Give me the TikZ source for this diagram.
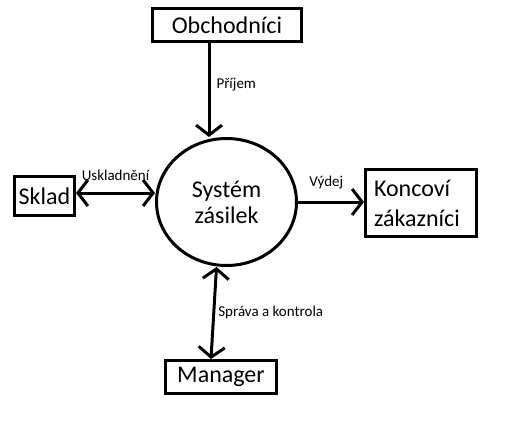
\documentclass[tikz,border=0pt]{standalone}
\usepackage{fontspec}
\setmainfont{Carlito}
\usetikzlibrary{arrows.meta,shapes.geometric}

\begin{document}
\begin{tikzpicture}[
  x=1pt, y=-1pt,
  box/.style={rectangle, draw, line width=3pt, inner sep=0pt, font=\fontsize{24}{30}\selectfont},
  proc/.style={ellipse, draw, line width=3pt, inner sep=0pt, minimum width=140pt, minimum height=127pt, align=center, font=\fontsize{24}{26}\selectfont},
  flow/.style={line width=3pt, -{Straight Barb[length=10pt,width=26pt]}},
  both/.style={line width=3pt, {Straight Barb[length=10pt,width=26pt]}-{Straight Barb[length=10pt,width=26pt]}},
  lbl/.style={font=\fontsize{15}{18}\selectfont, inner sep=0pt}
]
  \useasboundingbox (0,0) rectangle (510,422);

  \node[box, minimum width=149pt, minimum height=33pt] (obchodnici) at (227,25) {Obchodníci};
  \node[box, minimum width=60pt, minimum height=39pt] (sklad) at (44.5,196) {Sklad};
  \node[proc] (system) at (226.5,202) {Systém\\zásilek};
  \node[box, minimum width=111pt, minimum height=67pt, align=left, text width=94pt] (koncovi) at (421,203) {Koncoví\\zákazníci};
  \node[box, minimum width=111pt, minimum height=33pt] (manager) at (221,377) {Manager};

  \draw[flow] ([xshift=-18pt]obchodnici.south) -- ([xshift=-18pt]obchodnici.south |- system.north)
    node[lbl, pos=.44, anchor=west, xshift=6pt] {Příjem};
  \draw[both] ([yshift=3pt]sklad.east) -- ([yshift=3pt]sklad.east -| system.west)
    node[lbl, midway, yshift=18pt] {Uskladnění};
  \draw[flow] (system.east) -- (system.east -| koncovi.west)
    node[lbl, pos=.43, yshift=19pt] {Výdej};
  \draw[both] ([xshift=-10pt]system.south) -- ([xshift=-10pt]manager.north)
    node[lbl, pos=.49, anchor=west, xshift=3pt] {Správa a kontrola};
\end{tikzpicture}
\end{document}
